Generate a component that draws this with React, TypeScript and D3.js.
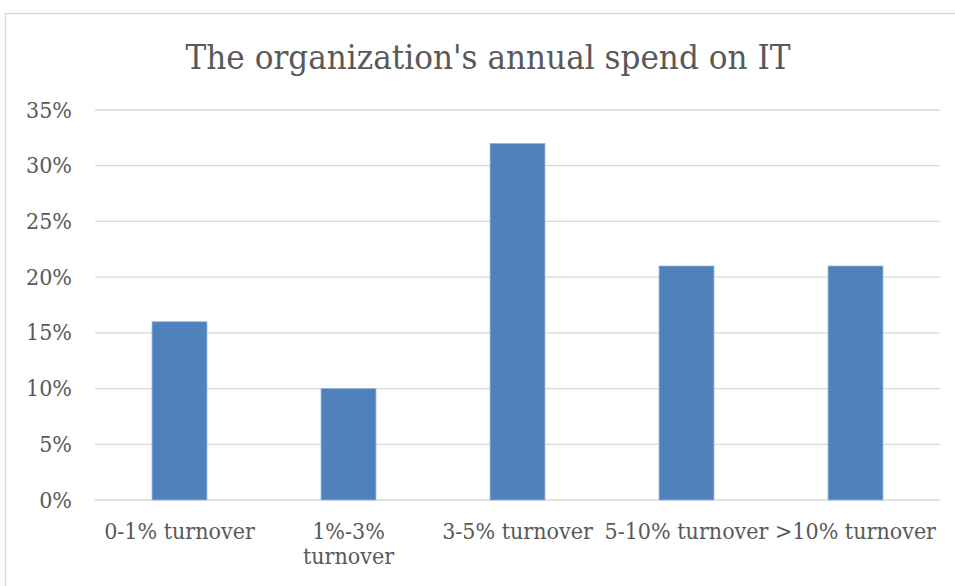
import React from "react";
import * as d3 from "d3";

const categories: string[][] = [
  ["0-1% turnover"],
  ["1%-3%", "turnover"],
  ["3-5% turnover"],
  ["5-10% turnover"],
  [">10% turnover"],
];
const values: number[] = [0.16, 0.10, 0.32, 0.21, 0.21];
const yTicks: number[] = [0, 0.05, 0.1, 0.15, 0.2, 0.25, 0.3, 0.35];
const title = "The organization's annual spend on IT";

const W = 955;
const H = 586;
const left = 95;
const right = 940;
const top = 110;
const bottom = 500;
const FONT = "'DejaVu Serif Condensed', 'DejaVu Serif', serif";

export default function App() {
  const x = d3
    .scaleBand<number>()
    .domain(values.map((_, i) => i))
    .range([left, right])
    .paddingInner(0)
    .paddingOuter(0);
  const y = d3.scaleLinear().domain([0, 0.35]).range([bottom, top]);
  const barW = x.bandwidth() * 0.325;
  const fmt = d3.format(".0%");

  return (
    <svg
      width={W}
      height={H}
      style={{ position: "absolute", left: 0, top: 0, background: "#fff", fontStretch: "condensed" }}
    >
      <rect x={5.5} y={13.5} width={W} height={H} fill="#fff" stroke="#d9d9d9" strokeWidth={1.5} />
      <text
        x={488}
        y={69}
        textAnchor="middle"
        fontFamily={FONT}
        fontSize={34}
        fill="#595959"
        textLength={605}
        lengthAdjust="spacingAndGlyphs"
      >
        {title}
      </text>
      {yTicks.map((t) => (
        <g key={t}>
          <line
            x1={left}
            x2={right}
            y1={y(t)}
            y2={y(t)}
            stroke="#d9d9d9"
            strokeWidth={1.3}
          />
          <text
            x={72}
            y={y(t) + 7.5}
            textAnchor="end"
            fontFamily={FONT}
            fontSize={23}
            fill="#595959"
          >
            {fmt(t)}
          </text>
        </g>
      ))}
      {values.map((v, i) => (
        <rect
          key={i}
          x={(x(i) as number) + (x.bandwidth() - barW) / 2}
          y={y(v)}
          width={barW}
          height={y(0) - y(v)}
          fill="#4f81bd"
          stroke="#9bb5da"
          strokeWidth={0.8}
        />
      ))}
      {categories.map((lines, i) => (
        <text
          key={i}
          x={(x(i) as number) + x.bandwidth() / 2}
          y={539}
          textAnchor="middle"
          fontFamily={FONT}
          fontSize={23}
          fill="#595959"
        >
          {lines.map((l, j) => (
            <tspan key={j} x={(x(i) as number) + x.bandwidth() / 2} dy={j === 0 ? 0 : 25}>
              {l}
            </tspan>
          ))}
        </text>
      ))}
    </svg>
  );
}
